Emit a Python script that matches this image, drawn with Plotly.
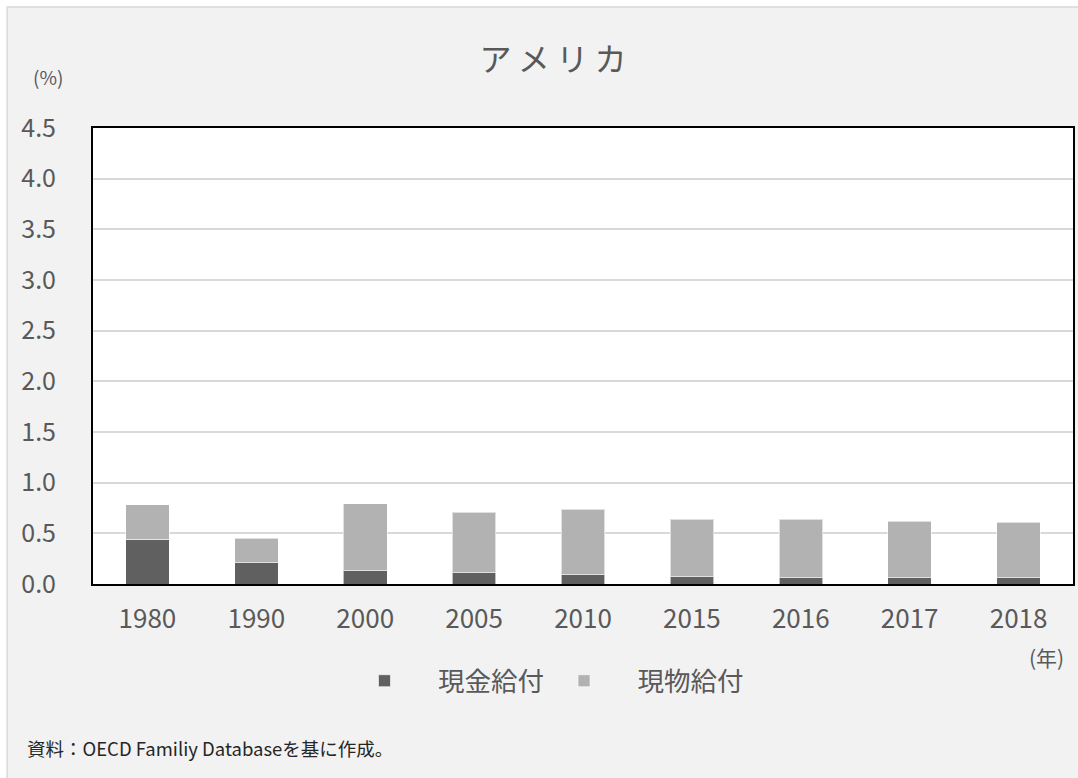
import plotly.graph_objects as go

# Family benefit spending as % of GDP, United States
years = ["1980", "1990", "2000", "2005", "2010", "2015", "2016", "2017", "2018"]
cash_benefits = [0.44, 0.21, 0.13, 0.11, 0.09, 0.07, 0.06, 0.06, 0.06]
in_kind_benefits = [0.34, 0.24, 0.66, 0.60, 0.65, 0.57, 0.58, 0.56, 0.55]
y_ticks = [0.0, 0.5, 1.0, 1.5, 2.0, 2.5, 3.0, 3.5, 4.0, 4.5]

FONT = "Noto Sans CJK JP"
GREY_TEXT = "#595959"
PAD = "\u2002\u2009"  # extra room between legend swatch and label

fig = go.Figure()
fig.add_trace(go.Bar(
    x=years, y=cash_benefits, name=PAD + "現金給付",
    marker=dict(color="#606060", line=dict(color="rgba(255,255,255,0.6)", width=1)),
))
fig.add_trace(go.Bar(
    x=years, y=in_kind_benefits, name=PAD + "現物給付",
    marker=dict(color="#b2b2b2", line=dict(color="rgba(255,255,255,0.6)", width=1)),
))

W, H = 1078, 778
L, R, T, B = 93, 3, 128, 194
pw, ph = W - L - R, H - T - B


def px_x(p):
    return (p - L) / pw


def px_y(p):
    return (H - B - p) / ph


fig.update_layout(
    width=W, height=H,
    margin=dict(l=L, r=R, t=T, b=B, pad=0),
    barmode="stack", bargap=0.6,
    paper_bgcolor="white", plot_bgcolor="rgba(0,0,0,0)",
    font=dict(family=FONT, color=GREY_TEXT),
    title=dict(
        text="ア\u2009メ\u2009リ\u2009カ",
        font=dict(size=32, color=GREY_TEXT, family=FONT),
        x=553 / W, xanchor="center", xref="container",
        y=1 - 60 / H, yanchor="middle", yref="container",
    ),
    xaxis=dict(
        type="category", showgrid=False, ticks="",
        tickfont=dict(size=26, color=GREY_TEXT),
        showline=True, linecolor="black", linewidth=2, mirror=True,
        ticklabelstandoff=11,
    ),
    yaxis=dict(
        range=[0, 4.5], tickvals=y_ticks, tickformat=".1f",
        tickfont=dict(size=25, color=GREY_TEXT),
        showgrid=True, gridcolor="#d9d9d9", gridwidth=1.5,
        showline=True, linecolor="black", linewidth=2, mirror=True,
        ticks="", ticklabelstandoff=30, zeroline=False,
    ),
    legend=dict(
        orientation="h", x=px_x(350), xanchor="left",
        y=px_y(681), yanchor="middle",
        font=dict(size=26.5, color=GREY_TEXT), itemwidth=60,
        bgcolor="rgba(0,0,0,0)", traceorder="normal",
    ),
    showlegend=True,
    shapes=[
        # chart area background and border
        dict(type="rect", xref="paper", yref="paper",
             x0=px_x(7), x1=px_x(W + 20), y0=px_y(H + 20), y1=px_y(7),
             fillcolor="#f2f2f2", line=dict(color="#d9d9d9", width=1.5), layer="below"),
        # plot area background
        dict(type="rect", xref="paper", yref="paper", x0=0, x1=1, y0=0, y1=1,
             fillcolor="white", line=dict(width=0), layer="below"),
    ],
    annotations=[
        dict(text="(%)", x=px_x(48), y=px_y(77), xref="paper", yref="paper",
             showarrow=False, font=dict(size=19, color=GREY_TEXT), xanchor="center", yanchor="middle"),
        dict(text="(年)", x=px_x(1048), y=px_y(657), xref="paper", yref="paper",
             showarrow=False, font=dict(size=21, color=GREY_TEXT), xanchor="center", yanchor="middle"),
        dict(text="資料：OECD Familiy Databaseを基に作成。", x=px_x(25), y=px_y(748),
             xref="paper", yref="paper", showarrow=False,
             font=dict(size=18.5, color="#262626"), xanchor="left", yanchor="middle"),
    ],
)

fig.write_html("out.html")
